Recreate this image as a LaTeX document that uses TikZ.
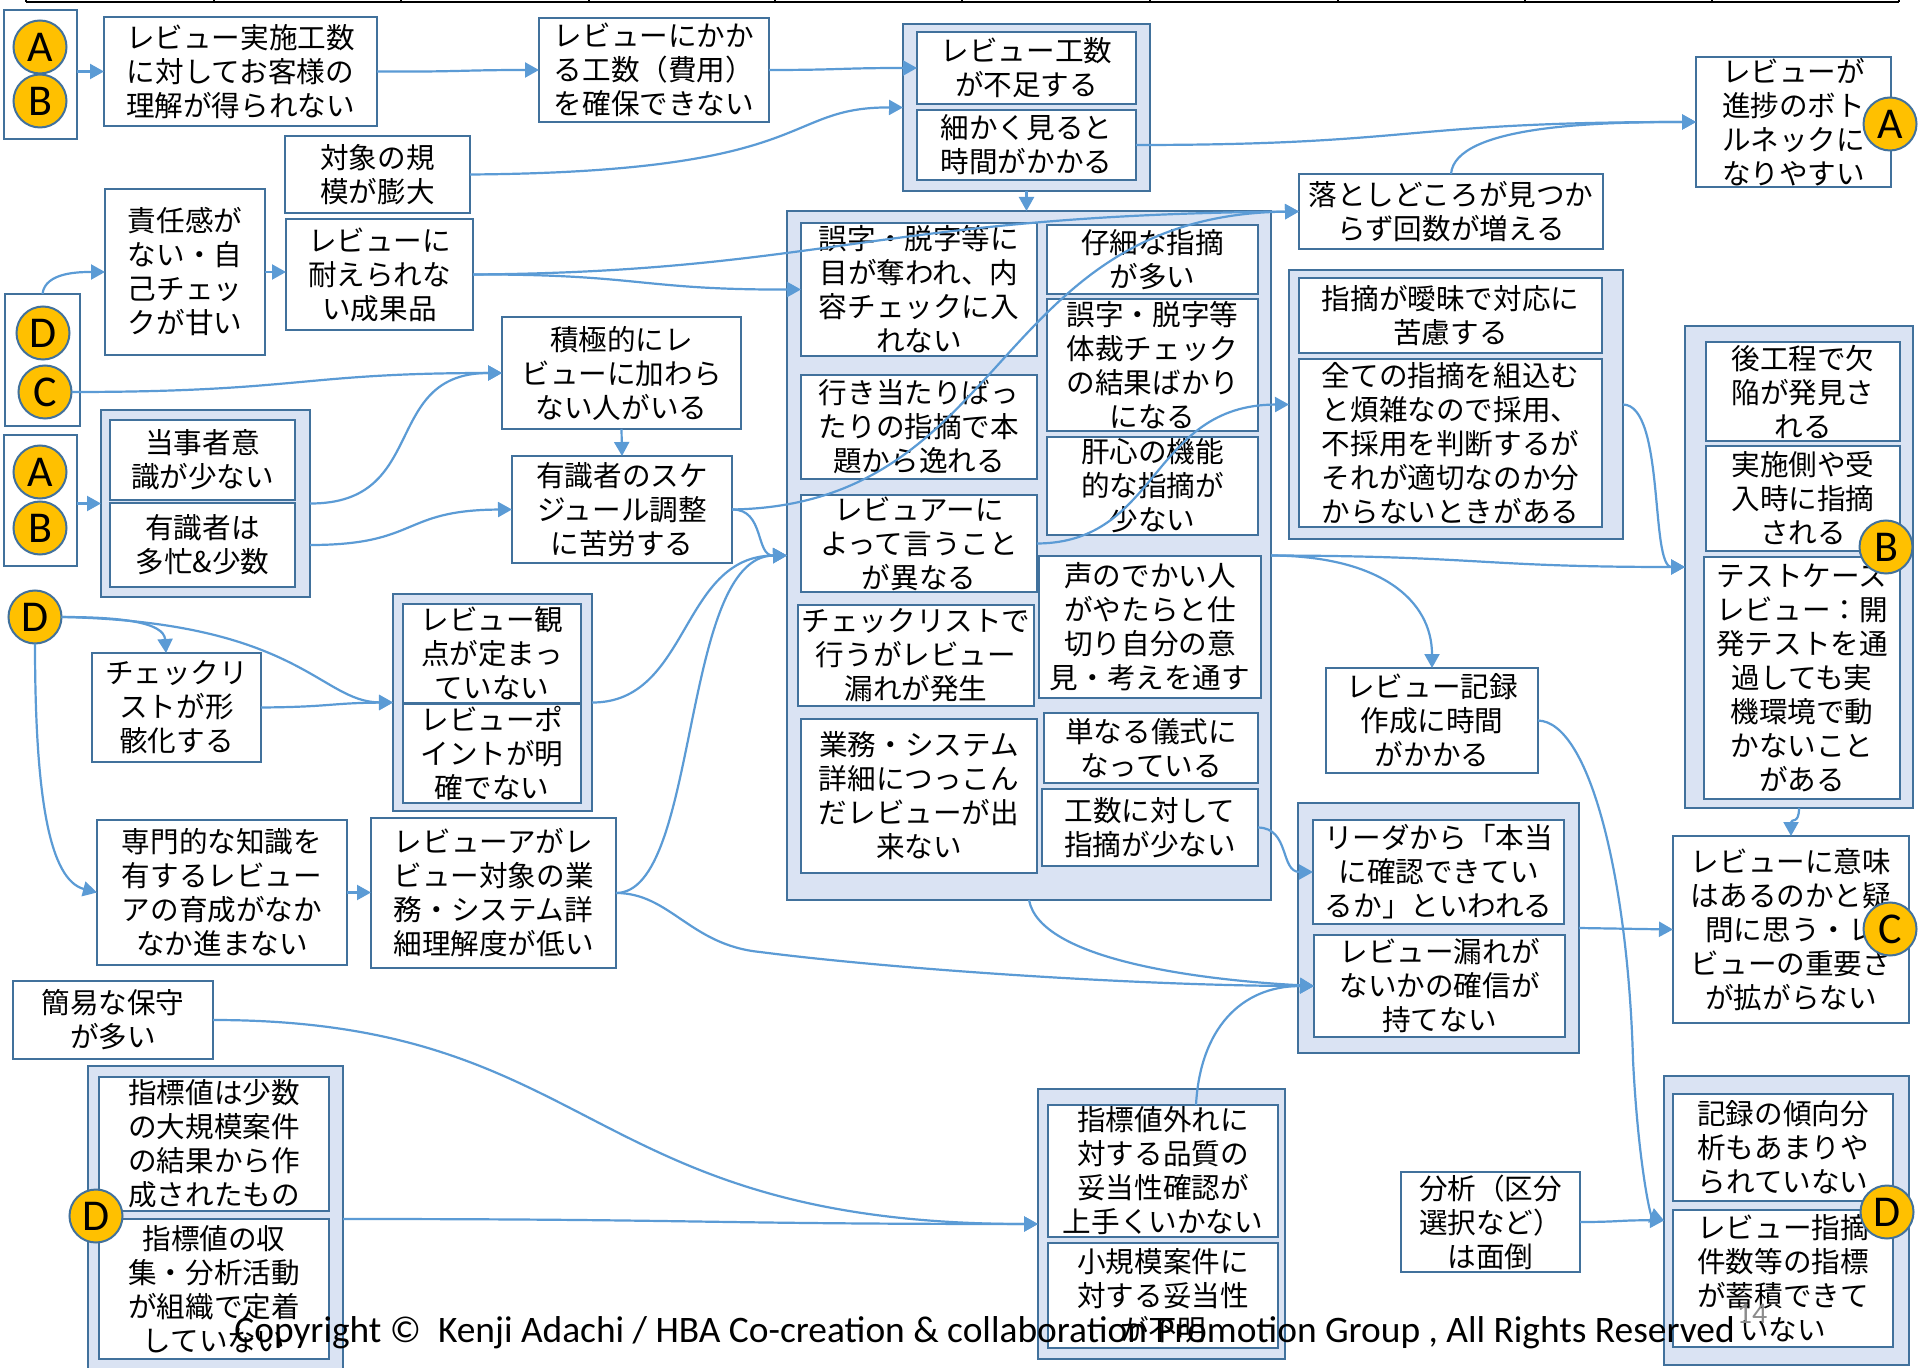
\documentclass[tikz,border=0pt]{standalone}
\usepackage{fontspec}
\setmainfont{Noto Sans CJK JP}
\newfontfamily\latinfont{Carlito}
\usetikzlibrary{arrows.meta,calc}
\definecolor{bordc}{HTML}{41719C}
\definecolor{arrc}{HTML}{5B9BD5}
\definecolor{grpc}{HTML}{DAE3F3}
\definecolor{badgec}{HTML}{FFC000}
\newcommand\jpfont{\fontsize{14.3pt}{17pt}\selectfont}
\newcommand\mknode[7]{\node[#6,minimum width={(#4-#2)*0.5pt},minimum height={(#5-#3)*0.5pt}] (#1) at ({(#2+#4)/2},{(#3+#5)/2}) {#7};}
\tikzset{
 bx/.style={draw=bordc, line width=1.1pt, fill=white, inner sep=0pt, outer sep=0pt, align=center, font=\jpfont},
 grp/.style={draw=bordc, line width=1.2pt, fill=grpc, inner sep=0pt, outer sep=0pt},
 bdgbox/.style={draw=bordc, line width=1.1pt, fill=white, inner sep=0pt, outer sep=0pt},
 badge/.style={circle, draw=bordc, line width=1pt, fill=badgec, minimum size=26.5pt, inner sep=0pt, outer sep=0pt, font=\latinfont\fontsize{22pt}{22pt}\selectfont},
 ar/.style={draw=arrc, line width=1.1pt, -{Triangle[length=7pt,width=7.5pt]}},
}
\begin{document}
\begin{tikzpicture}[x=0.5pt,y=-0.5pt]
\path[use as bounding box, fill=white] (0,0) rectangle (1920,1368);
\clip (0,0) rectangle (1920,1368);
% top table remnant
\draw[line width=1.3pt] (26,2) -- (1899,2);
\foreach \xx in {26,214,401,589,775,962,1150,1338,1525,1712,1899}
  \draw[line width=1.3pt] (\xx,-4) -- (\xx,2);
% groups
\mknode{G1}{903}{24}{1150}{191}{grp}{}
\mknode{G2}{101}{410}{310}{597}{grp}{}
\mknode{G3}{393}{594}{592}{811}{grp}{}
\mknode{G4}{88}{1066}{343}{1372}{grp}{}
\mknode{G5}{787}{211}{1271}{900}{grp}{}
\mknode{G6}{1289}{270}{1623}{539}{grp}{}
\mknode{G7}{1685}{326}{1913}{808}{grp}{}
\mknode{G8}{1298}{803}{1579}{1053}{grp}{}
\mknode{G9}{1038}{1089}{1285}{1359}{grp}{}
\mknode{G10}{1664}{1076}{1909}{1365}{grp}{}
% badge boxes
\mknode{AB1}{4}{10}{77}{139}{bdgbox}{}
\mknode{DC}{5}{294}{80}{426}{bdgbox}{}
\mknode{AB2}{4}{435}{77}{566}{bdgbox}{}
% boxes
\mknode{N1}{104}{17}{377}{126}{bx}{レビュー実施工数\\に対してお客様の\\理解が得られない}
\mknode{N2}{539}{18}{769}{122}{bx}{レビューにかか\\る工数（費用）\\を確保できない}
\mknode{N3}{917}{32}{1136}{104}{bx}{レビュー工数\\が不足する}
\mknode{N4}{917}{110}{1136}{180}{bx}{細かく見ると\\時間がかかる}
\mknode{N5}{1696}{57}{1891}{187}{bx}{レビューが\\進捗のボト\\ルネックに\\なりやすい}
\mknode{N6}{285}{136}{470}{213}{bx}{対象の規\\模が膨大}
\mknode{N7}{105}{189}{265}{355}{bx}{責任感が\\ない・自\\己チェッ\\クが甘い}
\mknode{N8}{286}{219}{473}{330}{bx}{レビューに\\耐えられな\\い成果品}
\mknode{N9}{1299}{174}{1603}{249}{bx}{落としどころが見つか\\らず回数が増える}
\mknode{N10}{502}{317}{741}{429}{bx}{積極的にレ\\ビューに加わら\\ない人がいる}
\mknode{N11}{110}{420}{295}{500}{bx}{当事者意\\識が少ない}
\mknode{N12}{110}{503}{295}{587}{bx}{有識者は\\多忙\&少数}
\mknode{N13}{512}{456}{732}{563}{bx}{有識者のスケ\\ジュール調整\\に苦労する}
\mknode{N14}{92}{653}{261}{762}{bx}{チェックリ\\ストが形\\骸化する}
\mknode{N15}{403}{604}{581}{703}{bx}{レビュー観\\点が定まっ\\ていない}
\mknode{N16}{403}{704}{581}{803}{bx}{レビューポ\\イントが明\\確でない}
\mknode{N17}{97}{820}{347}{965}{bx}{専門的な知識を\\有するレビュー\\アの育成がなか\\なか進まない}
\mknode{N18}{371}{818}{616}{968}{bx}{レビューアがレ\\ビュー対象の業\\務・システム詳\\細理解度が低い}
\mknode{N19}{13}{981}{213}{1059}{bx}{簡易な保守\\が多い}
\mknode{N20}{99}{1077}{329}{1211}{bx}{指標値は少数\\の大規模案件\\の結果から作\\成されたもの}
\mknode{N21}{99}{1219}{329}{1359}{bx}{指標値の収\\集・分析活動\\が組織で定着\\していない}
\mknode{C1}{801}{223}{1037}{356}{bx}{誤字・脱字等に\\目が奪われ、内\\容チェックに入\\れない}
\mknode{C2}{801}{375}{1037}{479}{bx}{行き当たりばっ\\たりの指摘で本\\題から逸れる}
\mknode{C3}{801}{495}{1037}{592}{bx}{レビュアーに\\よって言うこと\\が異なる}
\mknode{C4}{798}{605}{1034}{706}{bx}{チェックリストで\\行うがレビュー\\漏れが発生}
\mknode{C5}{801}{719}{1037}{873}{bx}{業務・システム\\詳細につっこん\\だレビューが出\\来ない}
\mknode{C6}{1047}{225}{1258}{294}{bx}{仔細な指摘\\が多い}
\mknode{C7}{1047}{299}{1258}{431}{bx}{誤字・脱字等\\体裁チェック\\の結果ばかり\\になる}
\mknode{C8}{1047}{437}{1258}{535}{bx}{肝心の機能\\的な指摘が\\少ない}
\mknode{C9}{1039}{556}{1261}{698}{bx}{声のでかい人\\がやたらと仕\\切り自分の意\\見・考えを通す}
\mknode{C10}{1044}{713}{1258}{783}{bx}{単なる儀式に\\なっている}
\mknode{C11}{1042}{789}{1258}{866}{bx}{工数に対して\\指摘が少ない}
\mknode{N22}{1299}{278}{1602}{353}{bx}{指摘が曖昧で対応に\\苦慮する}
\mknode{N23}{1299}{359}{1602}{527}{bx}{全ての指摘を組込む\\と煩雑なので採用、\\不採用を判断するが\\それが適切なのか分\\からないときがある}
\mknode{N24}{1706}{342}{1900}{441}{bx}{後工程で欠\\陥が発見さ\\れる}
\mknode{N25}{1706}{446}{1900}{551}{bx}{実施側や受\\入時に指摘\\される}
\mknode{N26}{1704}{557}{1900}{799}{bx}{テストケース\\レビュー：開\\発テストを通\\過しても実\\機環境で動\\かないこと\\がある}
\mknode{N27}{1326}{668}{1538}{773}{bx}{レビュー記録\\作成に時間\\がかかる}
\mknode{N28}{1313}{820}{1564}{924}{bx}{リーダから「本当\\に確認できてい\\るか」といわれる}
\mknode{N29}{1314}{935}{1565}{1037}{bx}{レビュー漏れが\\ないかの確信が\\持てない}
\mknode{N30}{1673}{836}{1909}{1023}{bx}{レビューに意味\\はあるのかと疑\\問に思う・レ\\ビューの重要さ\\が拡がらない}
\mknode{N31}{1048}{1105}{1278}{1237}{bx}{指標値外れに\\対する品質の\\妥当性確認が\\上手くいかない}
\mknode{N32}{1048}{1243}{1278}{1348}{bx}{小規模案件に\\対する妥当性\\が不明}
\mknode{N33}{1401}{1172}{1580}{1272}{bx}{分析（区分\\選択など）\\は面倒}
\mknode{N34}{1673}{1094}{1893}{1201}{bx}{記録の傾向分\\析もあまりや\\られていない}
\mknode{N35}{1673}{1210}{1893}{1347}{bx}{レビュー指摘\\件数等の指標\\が蓄積できて\\いない}
% badges
\node[badge] (bA1) at (40,47) {A};
\node[badge] (bB1) at (40,101) {B};
\node[badge] (bD2) at (43,333) {D};
\node[badge] (bC2) at (45,392) {C};
\node[badge] (bA3) at (40,472) {A};
\node[badge] (bB3) at (40,528) {B};
\node[badge] (bD3) at (35,617) {D};
% connectors
\coordinate (n14in) at (166,653);
\draw[ar] (AB1.east |- N1.west) -- (N1.west);
\draw[ar] (N1.east) .. controls (460,72) and (460,70) .. (N2.west);
\draw[ar] (N2.east) .. controls (840,70) and (840,68) .. (N3.west);
\draw[ar] (N6.east) .. controls (820,172) and (780,107) .. (G1.west);
\draw[ar] (N4.east) .. controls (1420,145) and (1400,122) .. (N5.west);
\draw[ar] (N9.north) .. controls (1455,125) and (1600,122) .. (N5.west);
\draw[ar] (G1.south) -- (G1.south |- G5.north);
\draw[ar] (N8.east) .. controls (820,272) and (880,215) .. (N9.west);
\draw[ar] (N8.east) .. controls (640,274) and (640,290) .. (C1.west);
\draw[ar] (DC.north) .. controls (45,272) and (80,272) .. (N7.west);
\draw[ar] (N7.east) -- (N7.east -| N8.west);
\draw[ar] (bC2.east) .. controls (300,392) and (300,373) .. (N10.west);
\draw[ar] (G2.east) .. controls (430,504) and (380,373) .. (N10.west);
\draw[ar] (G2.east |- N12.east) .. controls (420,545) and (400,510) .. (N13.west);
\draw[ar] (AB2.east |- G2.west) -- (G2.west);
\draw[ar] (N10.south) -- (N13.north);
\draw[ar] (bD3.east) .. controls (120,617) and (164,622) .. (n14in);
\draw[ar] (bD3.east) .. controls (300,622) and (320,702) .. (G3.west);
\draw[ar] (N14.east) .. controls (330,707) and (330,703) .. (G3.west);
\draw[ar] (bD3.south) .. controls (35,800) and (50,880) .. (N17.west);
\draw[ar] (N17.east) -- (N17.east -| N18.west);
\draw[ar] (G3.east) .. controls (690,703) and (680,556) .. (G5.west);
\draw[ar] (N18.east) .. controls (700,893) and (680,556) .. (G5.west);
\draw[ar] (N13.east) .. controls (765,509) and (755,556) .. (G5.west);
\draw[ar] (N13.east) .. controls (1010,505) and (990,215) .. (N9.west);
\draw[ar] (C3.east) .. controls (1160,543) and (1150,405) .. (G6.west);
\draw[ar] (G6.east) .. controls (1665,405) and (1650,567) .. (G7.west);
\draw[ar] (G5.east) .. controls (1480,556) and (1480,567) .. (G7.west);
\draw[ar] (G5.east) .. controls (1380,556) and (1432,600) .. (N27.north);
\draw[ar] (G7.south) .. controls (1799,825) and (1791,818) .. (N30.north);
\draw[ar] (G8.east) -- (N30.west);
\draw[ar] (N27.east) .. controls (1590,722) and (1628,880) .. (1633,1060) .. controls (1638,1160) and (1650,1215) .. (G10.west);
\draw[ar] (N33.east) .. controls (1620,1222) and (1620,1220) .. (G10.west);
\draw[ar] (C11.east) .. controls (1290,828) and (1280,872) .. (N28.west);
\draw[ar] (G5.south) .. controls (1040,960) and (1200,980) .. (N29.west);
\draw[ar] (N18.east) .. controls (670,893) and (690,945) .. (760,952) .. controls (900,970) and (1150,986) .. (N29.west);
\draw[ar] ($(N31.north)+(33,0)$) .. controls (1200,1030) and (1240,986) .. (N29.west);
\draw[ar] (N19.east) .. controls (600,1020) and (580,1224) .. (G9.west);
\draw[ar] (G4.east) .. controls (700,1219) and (700,1224) .. (G9.west);
% right badges
\node[badge] (bA5) at (1890,124) {A};
\node[badge] (bB7) at (1886,547) {B};
\node[badge] (bC30) at (1890,929) {C};
\node[badge] (bD10) at (1887,1212) {D};
\node[badge] (bD4) at (96,1216) {D};
% footer
\node[anchor=base west, inner sep=0pt, font=\latinfont\fontsize{18.7pt}{21pt}\selectfont] (copy) at (234,1342) {Copyright ©\ \ Kenji Adachi / HBA Co-creation \& collaboration Promotion Group , All Rights Reserved};
\node[inner sep=0pt, text=black!45, font=\latinfont\fontsize{15pt}{15pt}\selectfont] (pgno) at (1752,1314) {14};
\end{tikzpicture}
\end{document}
